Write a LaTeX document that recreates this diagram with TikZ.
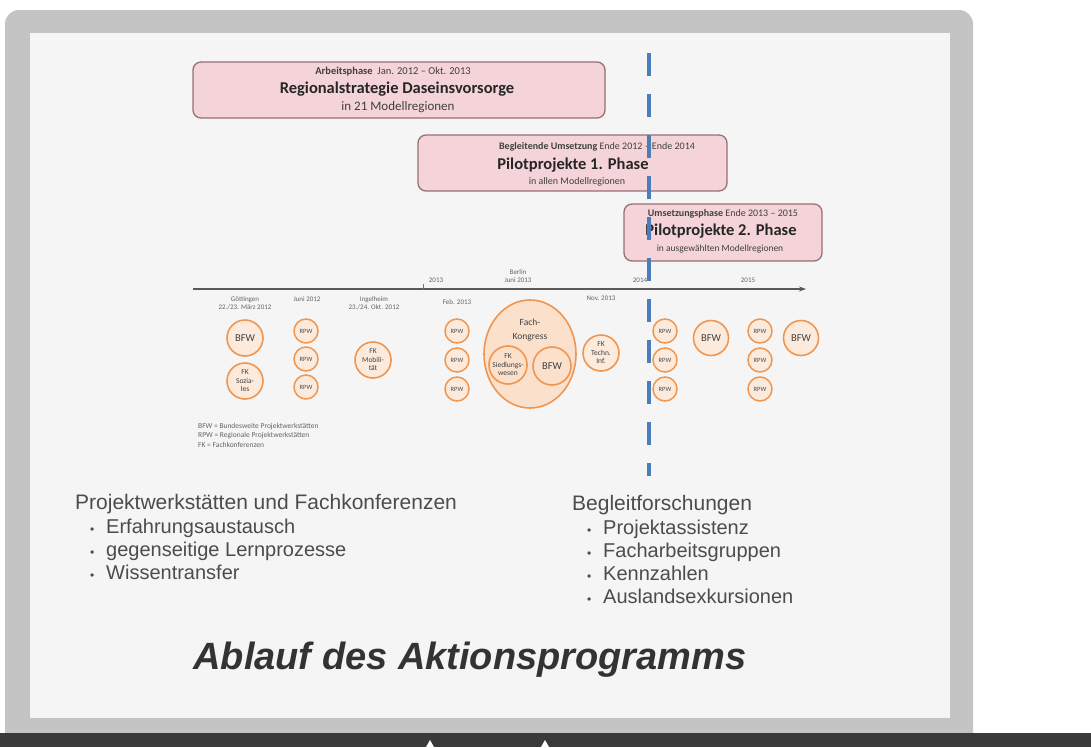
\documentclass[tikz,border=0pt]{standalone}
\usepackage{fontspec}
\setmainfont{Carlito}
\newfontfamily\arialfont{Liberation Sans}
\usetikzlibrary{arrows.meta,shapes.geometric}

\definecolor{framegray}{RGB}{196,196,196}
\definecolor{panelgray}{RGB}{245,245,245}
\definecolor{barcol}{RGB}{58,58,58}
\definecolor{phasefill}{RGB}{244,212,216}
\definecolor{phaseline}{RGB}{150,112,116}
\definecolor{evline}{RGB}{240,150,80}
\definecolor{evfill}{RGB}{252,234,220}
\definecolor{kongfill}{RGB}{251,224,204}
\definecolor{cutblue}{RGB}{74,126,187}
\definecolor{bodytext}{RGB}{76,76,76}
\definecolor{smalltext}{RGB}{100,100,100}

\tikzset{
  phasebox/.style={draw=phaseline, line width=1.3pt, fill=phasefill, rounded corners=8pt,
    inner sep=0pt},
  phsmall/.style={font=\fontsize{10}{11}\selectfont, text=black!75},
  phtitle/.style={font=\fontsize{16.5}{18}\selectfont\bfseries, text=black!85},
  bigev/.style={circle, draw=evline, line width=1.6pt, fill=evfill, minimum size=36pt,
    inner sep=0pt, font=\fontsize{10.5}{11}\selectfont, text=black!75, align=center},
  fkev/.style={bigev, font=\fontsize{7.5}{8.5}\selectfont},
  rpw/.style={circle, draw=evline, line width=1.5pt, fill=evfill, minimum size=24pt,
    inner sep=0pt, font=\fontsize{6.5}{7}\selectfont, text=black!70},
  tlabel/.style={font=\fontsize{7}{8}\selectfont, text=smalltext, align=center},
  legend/.style={font=\fontsize{7.5}{8.5}\selectfont, text=smalltext, anchor=west, inner sep=0pt},
  body/.style={font=\arialfont\fontsize{21}{24}\selectfont, text=bodytext, anchor=base west,
    inner sep=0pt},
  bulletitem/.style={body, font=\arialfont\fontsize{20}{24}\selectfont},
}
\newcommand{\itembullet}{\makebox[16pt][l]{\fontsize{12}{14}\selectfont\textbullet}}

\begin{document}
\begin{tikzpicture}[x=1pt,y=-1pt]
\useasboundingbox (0,0) rectangle (1091,747);
\fill[white] (0,0) rectangle (1091,747);

% slide frame and panel
\fill[framegray, rounded corners=14pt] (5,10) rectangle (973,746);
\fill[panelgray] (30,33) rectangle (950,718);
\fill[barcol] (0,733) rectangle (1091,747);
\fill[white] (430,740) -- (426,747) -- (434,747) -- cycle;
\fill[white] (545,740) -- (541,747) -- (549,747) -- cycle;

% phase boxes
\node[phasebox, minimum width=412pt, minimum height=56pt] (pa) at (399,90) {};
\node[phsmall, font=\fontsize{10.5}{11}\selectfont] (pa1) at (393,72) {\textbf{Arbeitsphase}\ \ Jan. 2012 -- Okt. 2013};
\node[phtitle] (pa2) at (397,89) {Regionalstrategie Daseinsvorsorge};
\node[phsmall, font=\fontsize{13}{14}\selectfont] (pa3) at (398,107) {in 21 Modellregionen};

\node[phasebox, minimum width=309pt, minimum height=56pt] (pb) at (572.5,163) {};
\node[phsmall] (pb1) at (597,147) {\textbf{Begleitende Umsetzung} Ende 2012 -- Ende 2014};
\node[phtitle] (pb2) at (573,165) {Pilotprojekte 1. Phase};
\node[phsmall] (pb3) at (577,182) {in allen Modellregionen};

\node[phasebox, minimum width=198pt, minimum height=57pt] (pc) at (723,232.5) {};
\node[phsmall] (pc1) at (723,214) {\textbf{Umsetzungsphase} Ende 2013 -- 2015};
\node[phtitle] (pc2) at (721,231) {Pilotprojekte 2. Phase};
\node[phsmall, font=\fontsize{9.5}{10}\selectfont] (pc3) at (720,249) {in ausgewählten Modellregionen};

% timeline
\coordinate (tstart) at (193,289);
\coordinate (tend) at (806,289);
\draw[black!65, line width=1.2pt, -{Stealth[length=7pt,width=5pt]}] (tstart) -- (tend);
\coordinate (tk1) at (423,289);
\draw[black!55, line width=0.6pt] (tk1) -- ++(0,-5);
\node[tlabel] (y13) at (436,280) {2013};
\node[tlabel] (y14) at (640,280) {2014};
\node[tlabel] (y15) at (748,280) {2015};
\node[tlabel] (berlin) at (518,276) {Berlin\\Juni 2013};

% event dates below the line
\node[tlabel] (d1) at (245,303) {Göttingen\\22./23. März 2012};
\node[tlabel] (d2) at (307,299) {Juni 2012};
\node[tlabel] (d3) at (374,303) {Ingelheim\\23./24. Okt. 2012};
\node[tlabel] (d4) at (457,302) {Feb. 2013};
\node[tlabel] (d5) at (601,298) {Nov. 2013};

% events 2012
\node[bigev] (b1) at (245,338) {BFW};
\node[fkev] (f1) at (245,381) {FK\\Sozia-\\les};
\node[rpw] (r11) at (306,331) {RPW};
\node[rpw] (r12) at (306,359) {RPW};
\node[rpw] (r13) at (306,387) {RPW};
\node[fkev] (f2) at (373,360) {FK\\Mobili-\\tät};

% events 2013
\node[rpw] (r21) at (457,331) {RPW};
\node[rpw] (r22) at (457,360) {RPW};
\node[rpw] (r23) at (457,389) {RPW};
\node[ellipse, draw=evline, line width=1.6pt, fill=kongfill, minimum width=92pt,
  minimum height=108pt, inner sep=0pt] (kong) at (530,354) {};
\node[font=\fontsize{9.5}{14}\selectfont, text=black!75, align=center] (kongt) at (530,330) {Fach-\\Kongress};
\node[fkev, minimum size=38pt, fill=kongfill] (f3) at (508,365) {FK\\Siedlungs-\\wesen};
\node[bigev, minimum size=38pt, fill=kongfill] (b2) at (552,366) {BFW};
\node[fkev] (f4) at (601,353) {FK\\Techn.\\Inf.};

% events 2014/2015
\node[rpw] (r31) at (665,331) {RPW};
\node[rpw] (r32) at (665,360) {RPW};
\node[rpw] (r33) at (665,389) {RPW};
\node[bigev, minimum size=35pt] (b3) at (711,338) {BFW};
\node[rpw] (r41) at (760,331) {RPW};
\node[rpw] (r42) at (760,360) {RPW};
\node[rpw] (r43) at (760,389) {RPW};
\node[bigev, minimum size=35pt] (b4) at (801,338) {BFW};

% legend
\node[legend] (l1) at (198,427) {BFW = Bundesweite Projektwerkstätten};
\node[legend] (l2) at (198,436) {RPW = Regionale Projektwerkstätten};
\node[legend] (l3) at (198,445) {FK = Fachkonferenzen};

% current date marker
\coordinate (cuttop) at (649,53);
\coordinate (cutbot) at (649,476);
\draw[cutblue, line width=4.5pt, dash pattern=on 23pt off 18pt] (cuttop) -- (cutbot);

% lower lists
\node[body] (h1) at (75,509) {Projektwerkstätten und Fachkonferenzen};
\node[bulletitem] (h1a) at (90,533) {\itembullet Erfahrungsaustausch};
\node[bulletitem] (h1b) at (90,556) {\itembullet gegenseitige Lernprozesse};
\node[bulletitem] (h1c) at (90,579) {\itembullet Wissentransfer};

\node[body] (h2) at (572,510) {Begleitforschungen};
\node[bulletitem] (h2a) at (587,534) {\itembullet Projektassistenz};
\node[bulletitem] (h2b) at (587,557) {\itembullet Facharbeitsgruppen};
\node[bulletitem] (h2c) at (587,580) {\itembullet Kennzahlen};
\node[bulletitem] (h2d) at (587,603) {\itembullet Auslandsexkursionen};

% title
\node[font=\arialfont\fontsize{38}{42}\selectfont\bfseries\itshape, text=black!80] (title) at (470,660) {Ablauf des Aktionsprogramms};
\end{tikzpicture}
\end{document}
